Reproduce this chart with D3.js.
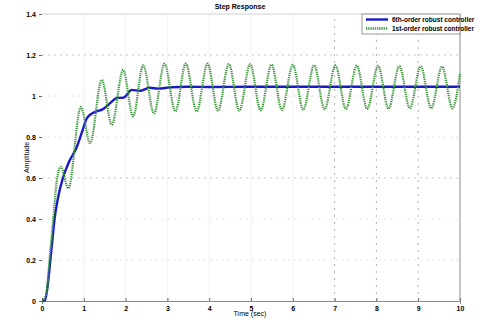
<html>
<head>
<title>Step Response</title>
<style>
  body { margin: 0; background: #fff; }
  text { font-family: "Liberation Sans", Arial, sans-serif; }
</style>
</head>
<body>
<script src="https://d3js.org/d3.v7.min.js"></script>
<script>
// x ticks, y ticks
var xTicks = [0, 1, 2, 3, 4, 5, 6, 7, 8, 9, 10]
var yTicks = [0, 0.2, 0.4, 0.6, 0.8, 1, 1.2, 1.4]

// 6th-order robust controller (time, amplitude)
var t6 = [0, 0.07, 0.15, 0.2, 0.25, 0.3, 0.38, 0.5, 0.65, 0.83, 0.95, 1.07, 1.2, 1.3, 1.45, 1.63, 1.79, 1.95, 2.15, 2.34, 2.58, 2.78, 3.06, 3.5, 4, 5, 6, 7, 8, 9, 10]
var y6 = [0, 0.003, 0.1, 0.2, 0.3, 0.4, 0.5, 0.6, 0.68, 0.75, 0.82, 0.89, 0.915, 0.925, 0.935, 0.965, 0.99, 0.992, 1.03, 1.025, 1.04, 1.036, 1.042, 1.045, 1.044, 1.045, 1.045, 1.045, 1.045, 1.045, 1.045]

// 1st-order robust controller (time, amplitude) - read at peaks / troughs
var t1 = [0, 0.1, 0.18, 0.27, 0.35, 0.45, 0.63, 0.93, 1.15, 1.43, 1.67, 1.94, 2.18, 2.42, 2.68, 2.93, 3.19, 3.44, 3.7, 3.96, 4.21, 4.47, 4.72, 4.98, 5.23, 5.49, 5.74, 6.0, 6.25, 6.51, 6.76, 7.02, 7.27, 7.53, 7.78, 8.04, 8.29, 8.55, 8.8, 9.06, 9.31, 9.57, 9.82, 10]
var y1 = [0, 0.03, 0.2, 0.4, 0.58, 0.655, 0.55, 0.946, 0.77, 1.078, 0.86, 1.127, 0.9, 1.15, 0.915, 1.158, 0.925, 1.158, 0.925, 1.158, 0.928, 1.156, 0.928, 1.155, 0.93, 1.153, 0.932, 1.152, 0.933, 1.15, 0.935, 1.149, 0.936, 1.148, 0.937, 1.147, 0.938, 1.146, 0.94, 1.145, 0.94, 1.143, 0.94, 1.11]

var legendLabels = ['6th-order robust controller', '1st-order robust controller']
var colors = ['#1a1ac4', '#3f963f']

var width = 480
var height = 330
var margin = {left: 42, right: 20, top: 14, bottom: 29}

var svg = d3.select('body').append('svg')
    .attr('width', width)
    .attr('height', height)

var xScale = d3.scaleLinear()
    .domain([0, 10])
    .range([margin.left, width - margin.right])
var yScale = d3.scaleLinear()
    .domain([0, 1.4])
    .range([height - margin.bottom, margin.top])

// grid lines
svg.selectAll('.hgrid').data(yTicks.slice(1, -1)).enter()
    .append('line')
    .attr('x1', xScale(0)).attr('x2', xScale(10))
    .attr('y1', d => yScale(d)).attr('y2', d => yScale(d))
    .attr('stroke', d => d == 1.2 || d == 0.6 ? '#c4c4c4' : '#e2e2e2')
    .attr('stroke-width', 1)
    .attr('stroke-dasharray', '2,4')

svg.selectAll('.vgrid').data(xTicks.slice(1, -1)).enter()
    .append('line')
    .attr('x1', d => xScale(d)).attr('x2', d => xScale(d))
    .attr('y1', yScale(0)).attr('y2', yScale(1.4))
    .attr('stroke', d => d >= 7 ? '#b0b0b0' : '#f2f2f2')
    .attr('stroke-width', 1)
    .attr('stroke-dasharray', d => d >= 7 ? '2,5' : null)

// frame
svg.append('line')
    .attr('x1', xScale(0)).attr('x2', xScale(10))
    .attr('y1', yScale(1.4)).attr('y2', yScale(1.4))
    .attr('stroke', '#d0d0d0')
svg.append('line')
    .attr('x1', xScale(10)).attr('x2', xScale(10))
    .attr('y1', yScale(0)).attr('y2', yScale(1.4))
    .attr('stroke', '#8a8a8a')

// axes
var xAxis = d3.axisBottom(xScale).tickValues(xTicks).tickSize(3).tickFormat(d3.format('d'))
var yAxis = d3.axisLeft(yScale).tickValues(yTicks).tickSize(3).tickFormat(d => d)

var gx = svg.append('g')
    .attr('transform', 'translate(0,' + yScale(0) + ')')
    .call(xAxis)
gx.select('.domain').attr('stroke', '#8a8a8a')
gx.selectAll('line').attr('stroke', '#666').attr('transform', 'translate(0,-3)')
gx.selectAll('text').attr('fill', '#000').attr('font-size', 7).attr('font-weight', 'bold').attr('dy', '0.5em')

var gy = svg.append('g')
    .attr('transform', 'translate(' + xScale(0) + ',0)')
    .call(yAxis)
gy.select('.domain').remove()
gy.selectAll('line').attr('stroke', '#666')
gy.selectAll('text').attr('fill', '#000').attr('font-size', 7).attr('font-weight', 'bold')

// lines
var line = d3.line()
    .x(d => xScale(d[0]))
    .y(d => yScale(d[1]))
    .curve(d3.curveMonotoneX)

svg.append('path')
    .datum(t6.map((t, i) => [t, y6[i]]))
    .attr('d', line)
    .attr('fill', 'none')
    .attr('stroke', colors[0])
    .attr('stroke-width', 2.4)

svg.append('path')
    .datum(t1.map((t, i) => [t, y1[i]]))
    .attr('d', line)
    .attr('fill', 'none')
    .attr('stroke', colors[1])
    .attr('stroke-width', 2.2)
    .attr('stroke-dasharray', '1.3,0.9')

// title and labels
svg.append('text')
    .attr('x', 240).attr('y', 9)
    .attr('text-anchor', 'middle')
    .attr('font-size', 7).attr('font-weight', 'bold').attr('fill', '#000')
    .text('Step Response')

svg.append('text')
    .attr('x', 250).attr('y', 316)
    .attr('text-anchor', 'middle')
    .attr('font-size', 7).attr('fill', '#000')
    .text('Time (sec)')

svg.append('text')
    .attr('transform', 'translate(29,' + yScale(0.7) + ') rotate(-90)')
    .attr('text-anchor', 'middle')
    .attr('font-size', 7).attr('fill', '#000')
    .text('Amplitude')

// legend
var lg = svg.append('g').attr('transform', 'translate(362,14)')
lg.append('rect')
    .attr('width', 98).attr('height', 20)
    .attr('fill', '#fff').attr('stroke', '#999')
legendLabels.forEach(function(lab, i) {
    lg.append('line')
        .attr('x1', 4).attr('x2', 26)
        .attr('y1', 5.5 + i * 9).attr('y2', 5.5 + i * 9)
        .attr('stroke', colors[i]).attr('stroke-width', 2.4)
        .attr('stroke-dasharray', i == 1 ? '1.3,0.9' : null)
    lg.append('text')
        .attr('x', 30).attr('y', 8 + i * 9)
        .attr('font-size', 6.5).attr('font-weight', 'bold').attr('fill', '#000')
        .text(lab)
})
</script>
</body>
</html>
